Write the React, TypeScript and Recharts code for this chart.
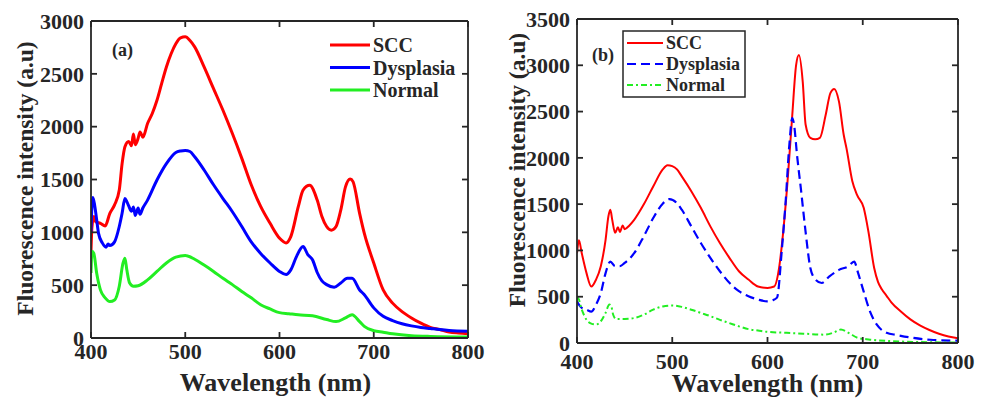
import React from 'react';
import { LineChart, Line, XAxis, YAxis, Legend, Label } from 'recharts';

const FONT = '"Liberation Serif", "Times New Roman", serif';
const INK = '#262626';
const RED = '#ff0000';
const BLUE = '#0000ff';
const GREEN = '#22ee22';

const X_TICKS = [400, 500, 600, 700, 800];
const Y_TICKS_A = [0, 500, 1000, 1500, 2000, 2500, 3000];
const Y_TICKS_B = [0, 500, 1000, 1500, 2000, 2500, 3000, 3500];
const SERIES_NAMES = ['SCC', 'Dysplasia', 'Normal'];

// panel (a): [wavelength nm, intensity a.u]
const sccA: [number, number][] = [
  [400, 830], [401, 1050], [403, 1150], [405, 1100], [410, 1085], [415, 1060], [420, 1180], [425, 1260],
  [430, 1400], [433, 1650], [436, 1810], [440, 1860], [443, 1820], [445, 1930], [447, 1830], [450, 1890],
  [452, 1950], [455, 1900], [460, 2030], [465, 2125], [470, 2250], [475, 2410], [480, 2565], [485, 2690],
  [490, 2785], [495, 2840], [500, 2850], [505, 2815], [510, 2755], [520, 2565], [530, 2360], [540, 2155],
  [550, 1935], [560, 1700], [570, 1450], [580, 1245], [590, 1085], [600, 945], [607, 900], [612, 960],
  [620, 1245], [625, 1400], [632, 1445], [640, 1305], [645, 1150], [650, 1055], [655, 1020], [660, 1055],
  [665, 1210], [670, 1430], [675, 1505], [678, 1480], [685, 1180], [690, 990], [700, 710], [710, 455],
  [720, 330], [730, 250], [740, 190], [750, 140], [760, 100], [770, 80], [780, 57], [790, 47], [800, 40],
];
const dysA: [number, number][] = [
  [400, 1000], [401, 1250], [402, 1330], [404, 1250], [406, 1120], [408, 990], [412, 900], [416, 860],
  [418, 890], [420, 875], [425, 910], [430, 1055], [433, 1180], [436, 1320], [438, 1290], [440, 1250],
  [443, 1200], [445, 1240], [447, 1160], [450, 1230], [452, 1170], [455, 1230], [460, 1305], [470, 1495],
  [480, 1650], [490, 1755], [495, 1770], [500, 1775], [505, 1765], [510, 1715], [520, 1590], [530, 1450],
  [540, 1320], [550, 1195], [560, 1055], [570, 910], [580, 800], [590, 710], [600, 630], [607, 600],
  [612, 645], [618, 770], [625, 865], [630, 790], [635, 740], [640, 620], [645, 540], [650, 505],
  [658, 480], [665, 520], [672, 565], [677, 565], [685, 455], [690, 410], [700, 285], [710, 205],
  [720, 165], [730, 135], [740, 115], [750, 100], [760, 90], [770, 80], [780, 72], [800, 65],
];
const normA: [number, number][] = [
  [400, 615], [401, 820], [403, 800], [406, 615], [410, 455], [415, 380], [420, 345], [425, 360],
  [430, 490], [434, 710], [436, 755], [438, 645], [441, 520], [445, 490], [450, 495], [460, 550],
  [470, 630], [480, 710], [490, 765], [500, 780], [510, 745], [520, 690], [530, 630], [540, 565],
  [550, 505], [560, 440], [570, 380], [580, 315], [590, 275], [600, 240], [610, 230], [620, 220],
  [635, 210], [650, 175], [660, 155], [670, 190], [677, 220], [685, 155], [690, 110], [700, 70],
  [710, 55], [720, 40], [740, 22], [760, 15], [800, 10],
];

// panel (b)
const sccB: [number, number][] = [
  [400, 970], [402, 1110], [405, 970], [410, 755], [415, 610], [420, 685], [425, 830], [430, 1115],
  [433, 1370], [435, 1440], [437, 1330], [440, 1190], [443, 1250], [445, 1200], [448, 1270], [450, 1230],
  [455, 1270], [460, 1330], [470, 1495], [480, 1690], [490, 1875], [495, 1920], [500, 1910], [505, 1875],
  [510, 1800], [520, 1640], [530, 1460], [540, 1260], [550, 1080], [560, 920], [570, 775], [580, 685],
  [590, 610], [600, 595], [607, 610], [612, 800], [616, 1150], [621, 1740], [626, 2460], [630, 3000],
  [633, 3110], [637, 2820], [640, 2360], [645, 2215], [650, 2200], [655, 2215], [661, 2460], [666, 2700],
  [670, 2745], [675, 2610], [680, 2250], [683, 2100], [689, 1750], [694, 1600], [701, 1460], [706, 1200],
  [712, 810], [716, 660], [720, 580], [725, 510], [730, 440], [740, 340], [750, 255], [760, 190],
  [770, 140], [780, 100], [790, 70], [800, 50],
];
const dysB: [number, number][] = [
  [400, 450], [402, 415], [405, 380], [410, 360], [415, 340], [420, 415], [425, 540], [430, 755],
  [435, 880], [440, 830], [445, 830], [450, 865], [460, 970], [470, 1150], [480, 1350], [490, 1505],
  [497, 1555], [505, 1510], [510, 1440], [520, 1260], [530, 1080], [540, 920], [550, 775], [560, 650],
  [570, 560], [580, 505], [590, 470], [600, 450], [605, 460], [610, 490], [615, 1000], [619, 1520],
  [623, 2150], [626, 2430], [628, 2350], [631, 2030], [635, 1670], [640, 1200], [645, 810], [650, 690],
  [657, 648], [665, 720], [675, 790], [685, 830], [691, 880], [695, 760], [701, 555], [708, 330],
  [715, 195], [725, 110], [736, 86], [750, 60], [771, 35], [800, 25],
];
const normB: [number, number][] = [
  [400, 470], [401, 485], [405, 360], [410, 250], [415, 210], [420, 200], [425, 235], [430, 325],
  [434, 415], [436, 395], [438, 305], [441, 260], [450, 260], [460, 270], [470, 305], [480, 360],
  [490, 395], [500, 405], [510, 390], [520, 360], [530, 325], [540, 290], [550, 250], [560, 215],
  [570, 180], [580, 150], [590, 135], [600, 120], [620, 110], [640, 100], [660, 90], [670, 115],
  [677, 145], [685, 110], [695, 55], [710, 35], [730, 20], [760, 10], [800, 5],
];

const toRows = (pts: [number, number][]) => pts.map(([nm, v]) => ({ nm, v }));

const textStyle = { fontFamily: FONT, fontWeight: 700, fill: INK } as const;
const axisLine = { stroke: INK, strokeWidth: 1.8 };

const LeftTick = ({ x, y, payload }: any) => (
  <text x={x - 7} y={y} dy="0.35em" textAnchor="end" fontSize={22} {...textStyle}>{payload.value}</text>
);
const makeBottomTick = (gap: number) => ({ x, y, payload }: any) => (
  <text x={x} y={y + gap} textAnchor="middle" fontSize={22} {...textStyle}>{payload.value}</text>
);
const BottomTickA = makeBottomTick(21);
const BottomTickB = makeBottomTick(26);

const YTitle = ({ viewBox, dx, dy }: any) => {
  const cx = (viewBox?.x ?? 0) + dx;
  const cy = (viewBox?.y ?? 0) + (viewBox?.height ?? 0) / 2 + dy;
  return (
    <text x={cx} y={cy} transform={`rotate(-90 ${cx} ${cy})`} textAnchor="middle" dominantBaseline="central" fontSize={23.5} {...textStyle}>
      Fluorescence intensity (a.u)
    </text>
  );
};
const XTitle = ({ viewBox, dx, gap }: any) => (
  <text x={(viewBox?.x ?? 0) + (viewBox?.width ?? 0) / 2 + dx} y={(viewBox?.y ?? 0) + gap} textAnchor="middle" fontSize={26} {...textStyle}>
    Wavelength (nm)
  </text>
);

// MATLAB box: top/right edges plus inward ticks on every side
const frameLines = (x0: number, y0: number, w: number, h: number, yMax: number, yTicks: number[]) => {
  const sx = (v: number) => x0 + ((v - 400) / 400) * w;
  const sy = (v: number) => y0 + h - (v / yMax) * h;
  const segs: [number, number, number, number][] = [
    [x0, y0, x0 + w, y0],
    [x0 + w, y0, x0 + w, y0 + h],
  ];
  X_TICKS.forEach((t) => {
    segs.push([sx(t), y0 + h, sx(t), y0 + h - 6]);
    segs.push([sx(t), y0, sx(t), y0 + 6]);
  });
  yTicks.forEach((t) => {
    segs.push([x0, sy(t), x0 + 6, sy(t)]);
    segs.push([x0 + w, sy(t), x0 + w - 6, sy(t)]);
  });
  return segs.map(([a, b, c, d], i) => (
    <line key={i} x1={a} y1={b} x2={c} y2={d} stroke={INK} strokeWidth={1.8} />
  ));
};

const LegendA = () => (
  <svg width={490} height={398} style={{ display: 'block', position: 'absolute', left: 0, top: 0 }}>
    {frameLines(91, 21, 377, 317, 3000, Y_TICKS_A)}
    <text x={112} y={56} fontSize={18} {...textStyle}>(a)</text>
    {[RED, BLUE, GREEN].map((c, i) => (
      <g key={c}>
        <line x1={330} x2={370} y1={45 + i * 22.5} y2={45 + i * 22.5} stroke={c} strokeWidth={3} />
        <text x={373} y={45 + i * 22.5} dy="0.35em" fontSize={20} {...textStyle}>{SERIES_NAMES[i]}</text>
      </g>
    ))}
  </svg>
);

const DASHES = [undefined, '9 5', '6 3 2 3'];
const LegendB = () => (
  <svg width={493} height={398} style={{ display: 'block', position: 'absolute', left: 0, top: 0 }}>
    {frameLines(87, 19, 381, 324, 3500, Y_TICKS_B)}
    <text x={102} y={61} fontSize={18} {...textStyle}>(b)</text>
    <rect x={133} y={31} width={122} height={66} fill="#fff" stroke={INK} strokeWidth={1.5} />
    {[RED, BLUE, GREEN].map((c, i) => (
      <g key={c}>
        <line x1={137} x2={173} y1={43 + i * 21} y2={43 + i * 21} stroke={c} strokeWidth={2} strokeDasharray={DASHES[i]} />
        <text x={176} y={43 + i * 21} dy="0.35em" fontSize={18} {...textStyle}>{SERIES_NAMES[i]}</text>
      </g>
    ))}
  </svg>
);

export default function App() {
  return (
    <div style={{ position: 'absolute', left: 0, top: 0, width: 983, height: 398, background: '#fff', overflow: 'hidden' }}>
      <div style={{ position: 'absolute', left: 0, top: 0, width: 490, height: 398 }}>
        <LineChart width={490} height={398} margin={{ top: 21, right: 22, bottom: 30, left: 0 }}>
          <XAxis dataKey="nm" type="number" domain={[400, 800]} ticks={X_TICKS} interval={0} height={30}
            tickSize={0} tickMargin={0} tick={<BottomTickA />} axisLine={axisLine} allowDataOverflow>
            <Label content={<XTitle dx={-4} gap={53} />} />
          </XAxis>
          <YAxis type="number" domain={[0, 3000]} ticks={Y_TICKS_A} interval={0} width={91}
            tickSize={0} tickMargin={0} tick={<LeftTick />} axisLine={axisLine} allowDataOverflow>
            <Label content={<YTitle dx={25} dy={-1} />} />
          </YAxis>
          <Line data={toRows(sccA)} dataKey="v" type="monotone" stroke={RED} strokeWidth={3} dot={false} isAnimationActive={false} />
          <Line data={toRows(dysA)} dataKey="v" type="monotone" stroke={BLUE} strokeWidth={3} dot={false} isAnimationActive={false} />
          <Line data={toRows(normA)} dataKey="v" type="monotone" stroke={GREEN} strokeWidth={3} dot={false} isAnimationActive={false} />
          <Legend layout="horizontal" verticalAlign="middle" align="center" content={<LegendA />}
            wrapperStyle={{ left: 0, top: 0, width: 490, height: 398, pointerEvents: 'none' }} />
        </LineChart>
      </div>
      <div style={{ position: 'absolute', left: 490, top: 0, width: 493, height: 398 }}>
        <LineChart width={493} height={398} margin={{ top: 19, right: 25, bottom: 25, left: 0 }}>
          <XAxis dataKey="nm" type="number" domain={[400, 800]} ticks={X_TICKS} interval={0} height={30}
            tickSize={0} tickMargin={0} tick={<BottomTickB />} axisLine={axisLine} allowDataOverflow>
            <Label content={<XTitle dx={0} gap={49} />} />
          </XAxis>
          <YAxis type="number" domain={[0, 3500]} ticks={Y_TICKS_B} interval={0} width={87}
            tickSize={0} tickMargin={0} tick={<LeftTick />} axisLine={axisLine} allowDataOverflow>
            <Label content={<YTitle dx={27} dy={-11} />} />
          </YAxis>
          <Line data={toRows(sccB)} dataKey="v" type="monotone" stroke={RED} strokeWidth={2} dot={false} isAnimationActive={false} />
          <Line data={toRows(dysB)} dataKey="v" type="monotone" stroke={BLUE} strokeWidth={2.2} strokeDasharray="9 5" dot={false} isAnimationActive={false} />
          <Line data={toRows(normB)} dataKey="v" type="monotone" stroke={GREEN} strokeWidth={2} strokeDasharray="6 3 2 3" dot={false} isAnimationActive={false} />
          <Legend layout="horizontal" verticalAlign="middle" align="center" content={<LegendB />}
            wrapperStyle={{ left: 0, top: 0, width: 493, height: 398, pointerEvents: 'none' }} />
        </LineChart>
      </div>
    </div>
  );
}
